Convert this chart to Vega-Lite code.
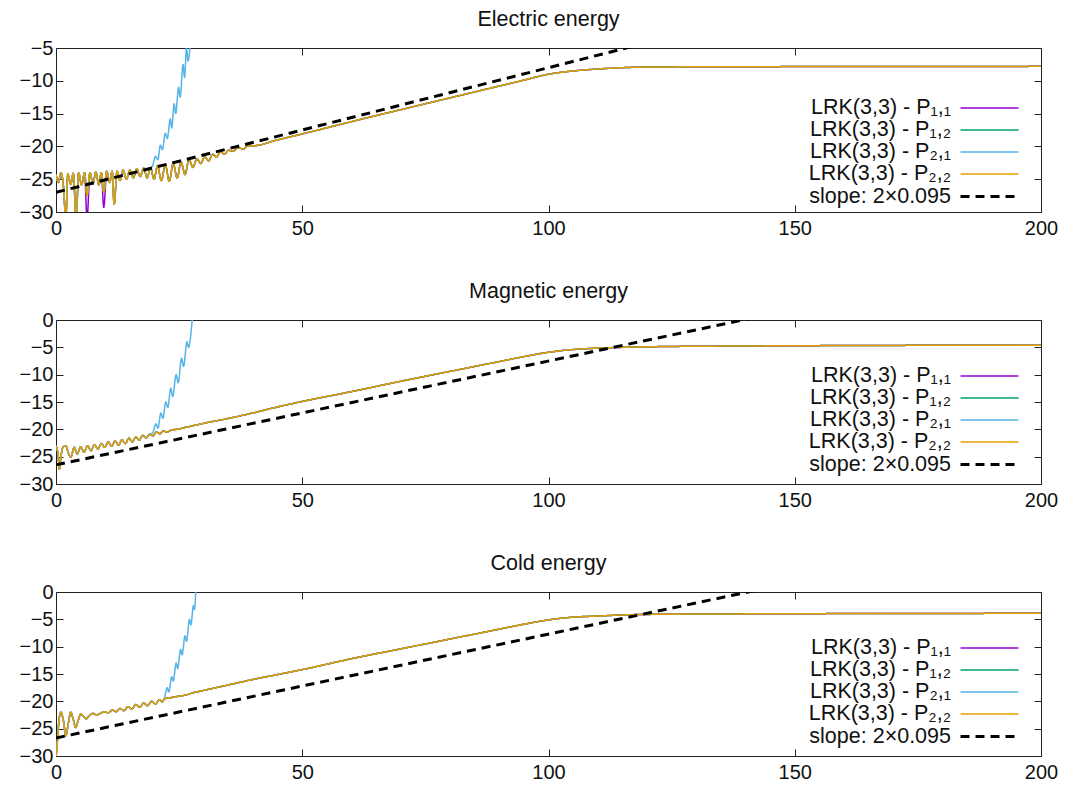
{
  "$schema": "https://vega.github.io/schema/vega-lite/v6.json",
  "background": "white",
  "padding": {"left": 5, "top": 8, "right": 5, "bottom": 0},
  "spacing": 32,
  "config": {
    "font": "Liberation Sans",
    "view": {"stroke": "#222222", "strokeWidth": 1},
    "axis": {"grid": false, "domain": false, "tickColor": "#222222", "tickSize": -7, "labelFontSize": 20, "labelColor": "#111111", "labelFont": "Liberation Sans", "title": null, "labelOverlap": false},
    "title": {"fontSize": 21.5, "fontWeight": "normal", "font": "Liberation Sans", "color": "#111111", "offset": 8, "anchor": "middle"},
    "legend": {"orient": "none", "symbolType": "M-2.9,0H2.9", "symbolSize": 400, "labelFontSize": 21.5, "labelFont": "Liberation Sans", "labelColor": "#111111", "labelAlign": "right", "labelBaseline": "middle", "labelOffset": -50, "rowPadding": 0, "labelLimit": 0, "padding": 0}
  },
  "datasets": {
    "E": [
      {"t":0,"p11":-24.3,"p12":-24.3,"p21":-24.3,"p22":-24.3},
      {"t":0.5,"p11":-25.5,"p12":-25.5,"p21":-25.5,"p22":-25.5},
      {"t":1.0,"p11":-24.0,"p12":-24.0,"p21":-24.0,"p22":-24.0},
      {"t":1.5,"p11":-26.0,"p12":-26.0,"p21":-26.0,"p22":-26.0},
      {"t":2.0,"p11":-31,"p12":-31,"p21":-31,"p22":-31},
      {"t":2.4,"p11":-24.2,"p12":-24.2,"p21":-24.2,"p22":-24.2},
      {"t":3.0,"p11":-25.8,"p12":-25.8,"p21":-25.8,"p22":-25.8},
      {"t":3.5,"p11":-24.1,"p12":-24.1,"p21":-24.1,"p22":-24.1},
      {"t":4.1,"p11":-31,"p12":-31,"p21":-31,"p22":-31},
      {"t":4.6,"p11":-24.0,"p12":-24.0,"p21":-24.0,"p22":-24.0},
      {"t":5.2,"p11":-25.9,"p12":-25.9,"p21":-25.9,"p22":-25.9},
      {"t":5.8,"p11":-24.0,"p12":-24.0,"p21":-24.0,"p22":-24.0},
      {"t":6.3,"p11":-31,"p12":-27.5,"p21":-27.5,"p22":-27.5},
      {"t":6.9,"p11":-24.0,"p12":-24.0,"p21":-24.0,"p22":-24.0},
      {"t":7.5,"p11":-25.7,"p12":-25.7,"p21":-25.7,"p22":-25.7},
      {"t":8.1,"p11":-23.9,"p12":-23.9,"p21":-23.9,"p22":-23.9},
      {"t":8.7,"p11":-25.9,"p12":-25.9,"p21":-25.9,"p22":-25.9},
      {"t":9.2,"p11":-24.0,"p12":-24.0,"p21":-24.0,"p22":-24.0},
      {"t":9.7,"p11":-29.3,"p12":-27.0,"p21":-27.0,"p22":-27.0},
      {"t":10.3,"p11":-23.8,"p12":-23.8,"p21":-23.8,"p22":-23.8},
      {"t":10.9,"p11":-25.5,"p12":-25.5,"p21":-25.5,"p22":-25.5},
      {"t":11.4,"p11":-23.8,"p12":-23.8,"p21":-23.8,"p22":-23.8},
      {"t":11.8,"p11":-28.8,"p12":-28.8,"p21":-28.8,"p22":-28.8},
      {"t":12.4,"p11":-23.8,"p12":-23.8,"p21":-23.8,"p22":-23.8},
      {"t":13.0,"p11":-25.2,"p12":-25.2,"p21":-25.2,"p22":-25.2},
      {"t":13.6,"p11":-23.6,"p12":-23.6,"p21":-23.6,"p22":-23.6},
      {"t":14.3,"p11":-25.0,"p12":-25.0,"p21":-25.0,"p22":-25.0},
      {"t":15.0,"p11":-23.6,"p12":-23.6,"p21":-23.6,"p22":-23.6},
      {"t":15.7,"p11":-24.8,"p12":-24.8,"p21":-24.8,"p22":-24.8},
      {"t":16.4,"p11":-23.4,"p12":-23.4,"p21":-23.4,"p22":-23.4},
      {"t":17.1,"p11":-24.6,"p12":-24.6,"p21":-24.6,"p22":-24.6},
      {"t":17.8,"p11":-23.3,"p12":-23.3,"p21":-23.3,"p22":-23.3},
      {"t":18.5,"p11":-24.8,"p12":-24.8,"p21":-24.8,"p22":-24.8},
      {"t":19.2,"p11":-23.3,"p12":-23.3,"p21":-23.3,"p22":-23.3},
      {"t":19.6,"p21":-23.0},
      {"t":19.9,"p11":-25.0,"p12":-25.0,"p22":-25.0},
      {"t":20.2,"p21":-21.5},
      {"t":20.6,"p11":-23.0,"p12":-23.0,"p22":-23.0},
      {"t":20.7,"p21":-22.0},
      {"t":21.2,"p21":-19.8},
      {"t":21.4,"p11":-25.2,"p12":-25.2,"p22":-25.2},
      {"t":21.6,"p21":-20.5},
      {"t":22.2,"p11":-22.8,"p12":-22.8,"p21":-18.0,"p22":-22.8},
      {"t":22.6,"p21":-18.8},
      {"t":23.0,"p11":-25.3,"p12":-25.3,"p22":-25.3},
      {"t":23.2,"p21":-15.8},
      {"t":23.5,"p21":-17.2},
      {"t":23.8,"p11":-22.6,"p12":-22.6,"p22":-22.6},
      {"t":24.0,"p21":-13.5},
      {"t":24.3,"p21":-15.0},
      {"t":24.6,"p11":-24.8,"p12":-24.8,"p22":-24.8},
      {"t":24.9,"p21":-11.0},
      {"t":25.2,"p21":-12.5},
      {"t":25.4,"p11":-22.4,"p12":-22.4,"p22":-22.4},
      {"t":25.8,"p21":-7.5},
      {"t":26.1,"p21":-9.5},
      {"t":26.2,"p11":-24.3,"p12":-24.3,"p22":-24.3},
      {"t":26.5,"p21":-5.0},
      {"t":26.8,"p21":-7.0},
      {"t":27.0,"p11":-22.0,"p12":-22.0,"p22":-22.0},
      {"t":27.3,"p21":-4.0},
      {"t":27.8,"p11":-23.2,"p12":-23.2,"p22":-23.2},
      {"t":28.6,"p11":-21.9,"p12":-21.9,"p22":-21.9},
      {"t":29.4,"p11":-22.6,"p12":-22.6,"p22":-22.6},
      {"t":30.2,"p11":-21.6,"p12":-21.6,"p22":-21.6},
      {"t":31.0,"p11":-22.2,"p12":-22.2,"p22":-22.2},
      {"t":31.8,"p11":-21.2,"p12":-21.2,"p22":-21.2},
      {"t":32.6,"p11":-21.6,"p12":-21.6,"p22":-21.6},
      {"t":33.4,"p11":-20.8,"p12":-20.8,"p22":-20.8},
      {"t":34.2,"p11":-21.2,"p12":-21.2,"p22":-21.2},
      {"t":35.0,"p11":-20.6,"p12":-20.6,"p22":-20.6},
      {"t":36.0,"p11":-20.7,"p12":-20.7,"p22":-20.7},
      {"t":37.0,"p11":-20.2,"p12":-20.2,"p22":-20.2},
      {"t":38.0,"p11":-20.4,"p12":-20.4,"p22":-20.4},
      {"t":39.0,"p11":-19.9,"p12":-19.9,"p22":-19.9},
      {"t":40.0,"p11":-19.9,"p12":-19.9,"p22":-19.9},
      {"t":45,"p11":-19.0,"p12":-19.0,"p22":-19.0},
      {"t":50,"p11":-18.1,"p12":-18.1,"p22":-18.1},
      {"t":58,"p11":-16.6,"p12":-16.6,"p22":-16.6},
      {"t":65,"p11":-15.3,"p12":-15.3,"p22":-15.3},
      {"t":70,"p11":-14.4,"p12":-14.4,"p22":-14.4},
      {"t":80,"p11":-12.6,"p12":-12.6,"p22":-12.6},
      {"t":90,"p11":-10.8,"p12":-10.8,"p22":-10.8},
      {"t":95,"p11":-9.9,"p12":-9.9,"p22":-9.9},
      {"t":100,"p11":-9.0,"p12":-9.0,"p22":-9.0},
      {"t":105,"p11":-8.5,"p12":-8.5,"p22":-8.5},
      {"t":110,"p11":-8.2,"p12":-8.2,"p22":-8.2},
      {"t":115,"p11":-8.0,"p12":-8.0,"p22":-8.0},
      {"t":120,"p11":-7.9,"p12":-7.9,"p22":-7.9},
      {"t":140,"p11":-7.85,"p12":-7.85,"p22":-7.85},
      {"t":200,"p11":-7.8,"p12":-7.8,"p22":-7.8},
      {"t":0,"slope":-27},
      {"t":200,"slope":11}
    ],
    "M": [
      {"t":0,"p11":-23.0,"p12":-23.0,"p21":-23.0,"p22":-23.0},
      {"t":0.4,"p11":-24.5,"p12":-24.5,"p21":-24.5,"p22":-24.5},
      {"t":0.7,"p11":-27.3,"p12":-27.3,"p21":-27.3,"p22":-27.3},
      {"t":1.0,"p11":-25.0,"p12":-25.0,"p21":-25.0,"p22":-25.0},
      {"t":1.4,"p11":-23.3,"p12":-23.3,"p21":-23.3,"p22":-23.3},
      {"t":2.0,"p11":-23.0,"p12":-23.0,"p21":-23.0,"p22":-23.0},
      {"t":2.5,"p11":-24.3,"p12":-24.3,"p21":-24.3,"p22":-24.3},
      {"t":3.0,"p11":-25.1,"p12":-25.1,"p21":-25.1,"p22":-25.1},
      {"t":3.7,"p11":-23.3,"p12":-23.3,"p21":-23.3,"p22":-23.3},
      {"t":4.3,"p11":-24.5,"p12":-24.5,"p21":-24.5,"p22":-24.5},
      {"t":5.0,"p11":-23.2,"p12":-23.2,"p21":-23.2,"p22":-23.2},
      {"t":5.7,"p11":-24.2,"p12":-24.2,"p21":-24.2,"p22":-24.2},
      {"t":6.4,"p11":-23.0,"p12":-23.0,"p21":-23.0,"p22":-23.0},
      {"t":7.1,"p11":-23.9,"p12":-23.9,"p21":-23.9,"p22":-23.9},
      {"t":7.8,"p11":-22.8,"p12":-22.8,"p21":-22.8,"p22":-22.8},
      {"t":8.5,"p11":-23.6,"p12":-23.6,"p21":-23.6,"p22":-23.6},
      {"t":9.2,"p11":-22.6,"p12":-22.6,"p21":-22.6,"p22":-22.6},
      {"t":9.9,"p11":-23.3,"p12":-23.3,"p21":-23.3,"p22":-23.3},
      {"t":10.6,"p11":-22.3,"p12":-22.3,"p21":-22.3,"p22":-22.3},
      {"t":11.3,"p11":-23.1,"p12":-23.1,"p21":-23.1,"p22":-23.1},
      {"t":12.0,"p11":-22.1,"p12":-22.1,"p21":-22.1,"p22":-22.1},
      {"t":12.7,"p11":-22.9,"p12":-22.9,"p21":-22.9,"p22":-22.9},
      {"t":13.4,"p11":-21.9,"p12":-21.9,"p21":-21.9,"p22":-21.9},
      {"t":14.1,"p11":-22.6,"p12":-22.6,"p21":-22.6,"p22":-22.6},
      {"t":14.8,"p11":-21.6,"p12":-21.6,"p21":-21.6,"p22":-21.6},
      {"t":15.5,"p11":-22.3,"p12":-22.3,"p21":-22.3,"p22":-22.3},
      {"t":16.2,"p11":-21.4,"p12":-21.4,"p21":-21.4,"p22":-21.4},
      {"t":16.9,"p11":-22.0,"p12":-22.0,"p21":-22.0,"p22":-22.0},
      {"t":17.6,"p11":-21.1,"p12":-21.1,"p21":-21.1,"p22":-21.1},
      {"t":18.3,"p11":-21.6,"p12":-21.6,"p21":-21.6,"p22":-21.6},
      {"t":19.0,"p11":-20.9,"p12":-20.9,"p21":-20.9,"p22":-20.9},
      {"t":19.6,"p21":-20.7},
      {"t":19.7,"p11":-21.2,"p12":-21.2,"p22":-21.2},
      {"t":20.3,"p21":-19.0},
      {"t":20.4,"p11":-20.5,"p12":-20.5,"p22":-20.5},
      {"t":20.7,"p21":-19.8},
      {"t":21.1,"p11":-20.8,"p12":-20.8,"p22":-20.8},
      {"t":21.3,"p21":-17.0},
      {"t":21.7,"p21":-18.0},
      {"t":21.8,"p11":-20.3,"p12":-20.3,"p22":-20.3},
      {"t":22.3,"p21":-15.0},
      {"t":22.5,"p11":-20.5,"p12":-20.5,"p22":-20.5},
      {"t":22.7,"p21":-16.0},
      {"t":23.3,"p21":-12.5},
      {"t":23.5,"p11":-20.1,"p12":-20.1,"p22":-20.1},
      {"t":23.7,"p21":-14.0},
      {"t":24.4,"p21":-10.0},
      {"t":24.5,"p11":-20.0,"p12":-20.0,"p22":-20.0},
      {"t":24.8,"p21":-11.5},
      {"t":25.5,"p21":-7.0},
      {"t":25.9,"p21":-8.5},
      {"t":26,"p11":-19.7,"p12":-19.7,"p22":-19.7},
      {"t":26.6,"p21":-4.0},
      {"t":26.9,"p21":-5.0},
      {"t":27.7,"p21":0.5},
      {"t":28,"p11":-19.3,"p12":-19.3,"p22":-19.3},
      {"t":30,"p11":-18.9,"p12":-18.9,"p22":-18.9},
      {"t":35,"p11":-18.0,"p12":-18.0,"p22":-18.0},
      {"t":40,"p11":-17.0,"p12":-17.0,"p22":-17.0},
      {"t":45,"p11":-15.9,"p12":-15.9,"p22":-15.9},
      {"t":50,"p11":-14.9,"p12":-14.9,"p22":-14.9},
      {"t":60,"p11":-13.1,"p12":-13.1,"p22":-13.1},
      {"t":70,"p11":-11.2,"p12":-11.2,"p22":-11.2},
      {"t":80,"p11":-9.4,"p12":-9.4,"p22":-9.4},
      {"t":90,"p11":-7.6,"p12":-7.6,"p22":-7.6},
      {"t":95,"p11":-6.7,"p12":-6.7,"p22":-6.7},
      {"t":100,"p11":-5.9,"p12":-5.9,"p22":-5.9},
      {"t":105,"p11":-5.4,"p12":-5.4,"p22":-5.4},
      {"t":110,"p11":-5.15,"p12":-5.15,"p22":-5.15},
      {"t":115,"p11":-5.0,"p12":-5.0,"p22":-5.0},
      {"t":120,"p11":-4.9,"p12":-4.9,"p22":-4.9},
      {"t":140,"p11":-4.75,"p12":-4.75,"p22":-4.75},
      {"t":200,"p11":-4.6,"p12":-4.6,"p22":-4.6},
      {"t":0,"slope":-26.5},
      {"t":200,"slope":11.5}
    ],
    "C": [
      {"t":0,"p11":-30.5,"p12":-30.5,"p21":-30.5,"p22":-30.5},
      {"t":0.3,"p11":-27.0,"p12":-27.0,"p21":-27.0,"p22":-27.0},
      {"t":0.6,"p11":-23.5,"p12":-23.5,"p21":-23.5,"p22":-23.5},
      {"t":1.0,"p11":-22.0,"p12":-22.0,"p21":-22.0,"p22":-22.0},
      {"t":1.5,"p11":-23.5,"p12":-23.5,"p21":-23.5,"p22":-23.5},
      {"t":2.0,"p11":-26.3,"p12":-26.3,"p21":-26.3,"p22":-26.3},
      {"t":2.5,"p11":-24.0,"p12":-24.0,"p21":-24.0,"p22":-24.0},
      {"t":3.0,"p11":-22.0,"p12":-22.0,"p21":-22.0,"p22":-22.0},
      {"t":3.5,"p11":-23.3,"p12":-23.3,"p21":-23.3,"p22":-23.3},
      {"t":4.0,"p11":-24.8,"p12":-24.8,"p21":-24.8,"p22":-24.8},
      {"t":4.5,"p11":-23.5,"p12":-23.5,"p21":-23.5,"p22":-23.5},
      {"t":5.0,"p11":-22.3,"p12":-22.3,"p21":-22.3,"p22":-22.3},
      {"t":5.6,"p11":-22.8,"p12":-22.8,"p21":-22.8,"p22":-22.8},
      {"t":6.1,"p11":-23.2,"p12":-23.2,"p21":-23.2,"p22":-23.2},
      {"t":6.8,"p11":-22.6,"p12":-22.6,"p21":-22.6,"p22":-22.6},
      {"t":7.5,"p11":-22.2,"p12":-22.2,"p21":-22.2,"p22":-22.2},
      {"t":8.2,"p11":-22.5,"p12":-22.5,"p21":-22.5,"p22":-22.5},
      {"t":9.0,"p11":-22.2,"p12":-22.2,"p21":-22.2,"p22":-22.2},
      {"t":9.8,"p11":-21.9,"p12":-21.9,"p21":-21.9,"p22":-21.9},
      {"t":10.6,"p11":-22.1,"p12":-22.1,"p21":-22.1,"p22":-22.1},
      {"t":11.4,"p11":-21.6,"p12":-21.6,"p21":-21.6,"p22":-21.6},
      {"t":12.2,"p11":-21.9,"p12":-21.9,"p21":-21.9,"p22":-21.9},
      {"t":13.0,"p11":-21.3,"p12":-21.3,"p21":-21.3,"p22":-21.3},
      {"t":13.8,"p11":-21.7,"p12":-21.7,"p21":-21.7,"p22":-21.7},
      {"t":14.6,"p11":-21.0,"p12":-21.0,"p21":-21.0,"p22":-21.0},
      {"t":15.4,"p11":-21.4,"p12":-21.4,"p21":-21.4,"p22":-21.4},
      {"t":16.2,"p11":-20.6,"p12":-20.6,"p21":-20.6,"p22":-20.6},
      {"t":17.0,"p11":-21.1,"p12":-21.1,"p21":-21.1,"p22":-21.1},
      {"t":17.8,"p11":-20.3,"p12":-20.3,"p21":-20.3,"p22":-20.3},
      {"t":18.6,"p11":-20.8,"p12":-20.8,"p21":-20.8,"p22":-20.8},
      {"t":19.4,"p11":-20.0,"p12":-20.0,"p21":-20.0,"p22":-20.0},
      {"t":20.2,"p11":-20.5,"p12":-20.5,"p21":-20.5,"p22":-20.5},
      {"t":21.0,"p11":-19.7,"p12":-19.7,"p21":-19.7,"p22":-19.7},
      {"t":21.6,"p11":-20.1,"p12":-20.1,"p21":-20.1,"p22":-20.1},
      {"t":22.0,"p11":-19.5,"p12":-19.5,"p21":-19.5,"p22":-19.5},
      {"t":22.6,"p21":-17.5},
      {"t":22.9,"p21":-18.3},
      {"t":23,"p11":-19.4,"p12":-19.4,"p22":-19.4},
      {"t":23.5,"p21":-15.5},
      {"t":23.8,"p21":-16.3},
      {"t":24,"p11":-19.2,"p12":-19.2,"p22":-19.2},
      {"t":24.4,"p21":-13.0},
      {"t":24.7,"p21":-14.0},
      {"t":25.3,"p21":-10.5},
      {"t":25.6,"p21":-11.5},
      {"t":26,"p11":-18.9,"p12":-18.9,"p22":-18.9},
      {"t":26.2,"p21":-8.0},
      {"t":26.5,"p21":-9.0},
      {"t":27.1,"p21":-5.0},
      {"t":27.4,"p21":-6.0},
      {"t":27.9,"p21":-2.5},
      {"t":28,"p11":-18.4,"p12":-18.4,"p22":-18.4},
      {"t":28.1,"p21":-3.2},
      {"t":28.4,"p21":0.5},
      {"t":30,"p11":-18.0,"p12":-18.0,"p22":-18.0},
      {"t":35,"p11":-17.0,"p12":-17.0,"p22":-17.0},
      {"t":40,"p11":-16.0,"p12":-16.0,"p22":-16.0},
      {"t":45,"p11":-15.1,"p12":-15.1,"p22":-15.1},
      {"t":50,"p11":-14.2,"p12":-14.2,"p22":-14.2},
      {"t":60,"p11":-12.2,"p12":-12.2,"p22":-12.2},
      {"t":70,"p11":-10.4,"p12":-10.4,"p22":-10.4},
      {"t":80,"p11":-8.6,"p12":-8.6,"p22":-8.6},
      {"t":90,"p11":-6.8,"p12":-6.8,"p22":-6.8},
      {"t":95,"p11":-5.9,"p12":-5.9,"p22":-5.9},
      {"t":100,"p11":-5.1,"p12":-5.1,"p22":-5.1},
      {"t":105,"p11":-4.6,"p12":-4.6,"p22":-4.6},
      {"t":110,"p11":-4.4,"p12":-4.4,"p22":-4.4},
      {"t":115,"p11":-4.2,"p12":-4.2,"p22":-4.2},
      {"t":120,"p11":-4.1,"p12":-4.1,"p22":-4.1},
      {"t":140,"p11":-4.0,"p12":-4.0,"p22":-4.0},
      {"t":200,"p11":-3.9,"p12":-3.9,"p22":-3.9},
      {"t":0,"slope":-26.7},
      {"t":200,"slope":11.3}
    ]
  },
  "resolve": {
    "scale": {"color": "independent", "strokeDash": "independent", "strokeWidth": "independent", "x": "independent", "y": "independent"},
    "legend": {"color": "independent", "strokeDash": "independent", "strokeWidth": "independent"}
  },
  "vconcat": [
    {
      "title": {"text": "Electric energy"},
      "width": 985,
      "height": 164,
      "data": {"name": "E"},
      "transform": [
        {"fold": ["p11", "p12", "p21", "p22", "slope"], "as": ["series", "v"]},
        {"filter": "isValid(datum.v)"}
      ],
      "layer": [
        {
          "mark": {"type": "line", "clip": true, "interpolate": "monotone"},
          "encoding": {
            "x": {"field": "t", "type": "quantitative", "scale": {"domain": [0, 200], "nice": false, "zero": false}, "axis": {"orient": "bottom", "values": [0, 50, 100, 150, 200], "labelFlush": false, "labelPadding": 13, "minExtent": 35, "maxExtent": 35}},
            "y": {"field": "v", "type": "quantitative", "scale": {"domain": [-30, -5], "nice": false, "zero": false}, "axis": {"orient": "left", "values": [-30, -25, -20, -15, -10, -5], "labelPadding": 10, "minExtent": 50, "maxExtent": 50}},
            "color": {"field": "series", "type": "nominal", "scale": {"domain": ["p11", "p12", "p21", "p22", "slope"], "range": ["#9400d3", "#009e73", "#56b4e9", "#e69f00", "#000000"]}, "legend": {"title": null, "legendX": 922, "legendY": 49, "labelExpr": "{'p11':'LRK(3,3) - P₁,₁','p12':'LRK(3,3) - P₁,₂','p21':'LRK(3,3) - P₂,₁','p22':'LRK(3,3) - P₂,₂','slope':'slope: 2×0.095'}[datum.value]"}},
            "strokeDash": {"field": "series", "type": "nominal", "scale": {"domain": ["p11", "p12", "p21", "p22", "slope"], "range": [[1, 0], [1, 0], [1, 0], [1, 0], [9, 6]]}, "legend": {"title": null, "legendX": 922, "legendY": 49, "labelExpr": "{'p11':'LRK(3,3) - P₁,₁','p12':'LRK(3,3) - P₁,₂','p21':'LRK(3,3) - P₂,₁','p22':'LRK(3,3) - P₂,₂','slope':'slope: 2×0.095'}[datum.value]"}},
            "strokeWidth": {"field": "series", "type": "nominal", "scale": {"type": "ordinal", "domain": ["p11", "p12", "p21", "p22", "slope"], "range": [1.5, 1.5, 1.5, 1.5, 3]}, "legend": {"title": null, "legendX": 922, "legendY": 49, "labelExpr": "{'p11':'LRK(3,3) - P₁,₁','p12':'LRK(3,3) - P₁,₂','p21':'LRK(3,3) - P₂,₁','p22':'LRK(3,3) - P₂,₂','slope':'slope: 2×0.095'}[datum.value]"}}
          }
        },
        {
          "mark": {"type": "point", "opacity": 0, "clip": true},
          "encoding": {
            "x": {"field": "t", "type": "quantitative", "scale": {"domain": [0, 200], "nice": false, "zero": false}, "axis": {"orient": "top", "values": [0, 50, 100, 150, 200], "labels": false, "minExtent": 0, "maxExtent": 0}},
            "y": {"field": "v", "type": "quantitative", "scale": {"domain": [-30, -5], "nice": false, "zero": false}, "axis": {"orient": "right", "values": [-30, -25, -20, -15, -10, -5], "labels": false, "minExtent": 0, "maxExtent": 0}}
          }
        }
      ],
      "resolve": {"axis": {"x": "independent", "y": "independent"}}
    },
    {
      "title": {"text": "Magnetic energy"},
      "width": 985,
      "height": 164,
      "data": {"name": "M"},
      "transform": [
        {"fold": ["p11", "p12", "p21", "p22", "slope"], "as": ["series", "v"]},
        {"filter": "isValid(datum.v)"}
      ],
      "layer": [
        {
          "mark": {"type": "line", "clip": true, "interpolate": "monotone"},
          "encoding": {
            "x": {"field": "t", "type": "quantitative", "scale": {"domain": [0, 200], "nice": false, "zero": false}, "axis": {"orient": "bottom", "values": [0, 50, 100, 150, 200], "labelFlush": false, "labelPadding": 13, "minExtent": 35, "maxExtent": 35}},
            "y": {"field": "v", "type": "quantitative", "scale": {"domain": [-30, 0], "nice": false, "zero": false}, "axis": {"orient": "left", "values": [-30, -25, -20, -15, -10, -5, 0], "labelPadding": 10, "minExtent": 50, "maxExtent": 50}},
            "color": {"field": "series", "type": "nominal", "scale": {"domain": ["p11", "p12", "p21", "p22", "slope"], "range": ["#9400d3", "#009e73", "#56b4e9", "#e69f00", "#000000"]}, "legend": {"title": null, "legendX": 922, "legendY": 45, "labelExpr": "{'p11':'LRK(3,3) - P₁,₁','p12':'LRK(3,3) - P₁,₂','p21':'LRK(3,3) - P₂,₁','p22':'LRK(3,3) - P₂,₂','slope':'slope: 2×0.095'}[datum.value]"}},
            "strokeDash": {"field": "series", "type": "nominal", "scale": {"domain": ["p11", "p12", "p21", "p22", "slope"], "range": [[1, 0], [1, 0], [1, 0], [1, 0], [9, 6]]}, "legend": {"title": null, "legendX": 922, "legendY": 45, "labelExpr": "{'p11':'LRK(3,3) - P₁,₁','p12':'LRK(3,3) - P₁,₂','p21':'LRK(3,3) - P₂,₁','p22':'LRK(3,3) - P₂,₂','slope':'slope: 2×0.095'}[datum.value]"}},
            "strokeWidth": {"field": "series", "type": "nominal", "scale": {"type": "ordinal", "domain": ["p11", "p12", "p21", "p22", "slope"], "range": [1.5, 1.5, 1.5, 1.5, 3]}, "legend": {"title": null, "legendX": 922, "legendY": 45, "labelExpr": "{'p11':'LRK(3,3) - P₁,₁','p12':'LRK(3,3) - P₁,₂','p21':'LRK(3,3) - P₂,₁','p22':'LRK(3,3) - P₂,₂','slope':'slope: 2×0.095'}[datum.value]"}}
          }
        },
        {
          "mark": {"type": "point", "opacity": 0, "clip": true},
          "encoding": {
            "x": {"field": "t", "type": "quantitative", "scale": {"domain": [0, 200], "nice": false, "zero": false}, "axis": {"orient": "top", "values": [0, 50, 100, 150, 200], "labels": false, "minExtent": 0, "maxExtent": 0}},
            "y": {"field": "v", "type": "quantitative", "scale": {"domain": [-30, 0], "nice": false, "zero": false}, "axis": {"orient": "right", "values": [-30, -25, -20, -15, -10, -5, 0], "labels": false, "minExtent": 0, "maxExtent": 0}}
          }
        }
      ],
      "resolve": {"axis": {"x": "independent", "y": "independent"}}
    },
    {
      "title": {"text": "Cold energy"},
      "width": 985,
      "height": 164,
      "data": {"name": "C"},
      "transform": [
        {"fold": ["p11", "p12", "p21", "p22", "slope"], "as": ["series", "v"]},
        {"filter": "isValid(datum.v)"}
      ],
      "layer": [
        {
          "mark": {"type": "line", "clip": true, "interpolate": "monotone"},
          "encoding": {
            "x": {"field": "t", "type": "quantitative", "scale": {"domain": [0, 200], "nice": false, "zero": false}, "axis": {"orient": "bottom", "values": [0, 50, 100, 150, 200], "labelFlush": false, "labelPadding": 13, "minExtent": 35, "maxExtent": 35}},
            "y": {"field": "v", "type": "quantitative", "scale": {"domain": [-30, 0], "nice": false, "zero": false}, "axis": {"orient": "left", "values": [-30, -25, -20, -15, -10, -5, 0], "labelPadding": 10, "minExtent": 50, "maxExtent": 50}},
            "color": {"field": "series", "type": "nominal", "scale": {"domain": ["p11", "p12", "p21", "p22", "slope"], "range": ["#9400d3", "#009e73", "#56b4e9", "#e69f00", "#000000"]}, "legend": {"title": null, "legendX": 922, "legendY": 45, "labelExpr": "{'p11':'LRK(3,3) - P₁,₁','p12':'LRK(3,3) - P₁,₂','p21':'LRK(3,3) - P₂,₁','p22':'LRK(3,3) - P₂,₂','slope':'slope: 2×0.095'}[datum.value]"}},
            "strokeDash": {"field": "series", "type": "nominal", "scale": {"domain": ["p11", "p12", "p21", "p22", "slope"], "range": [[1, 0], [1, 0], [1, 0], [1, 0], [9, 6]]}, "legend": {"title": null, "legendX": 922, "legendY": 45, "labelExpr": "{'p11':'LRK(3,3) - P₁,₁','p12':'LRK(3,3) - P₁,₂','p21':'LRK(3,3) - P₂,₁','p22':'LRK(3,3) - P₂,₂','slope':'slope: 2×0.095'}[datum.value]"}},
            "strokeWidth": {"field": "series", "type": "nominal", "scale": {"type": "ordinal", "domain": ["p11", "p12", "p21", "p22", "slope"], "range": [1.5, 1.5, 1.5, 1.5, 3]}, "legend": {"title": null, "legendX": 922, "legendY": 45, "labelExpr": "{'p11':'LRK(3,3) - P₁,₁','p12':'LRK(3,3) - P₁,₂','p21':'LRK(3,3) - P₂,₁','p22':'LRK(3,3) - P₂,₂','slope':'slope: 2×0.095'}[datum.value]"}}
          }
        },
        {
          "mark": {"type": "point", "opacity": 0, "clip": true},
          "encoding": {
            "x": {"field": "t", "type": "quantitative", "scale": {"domain": [0, 200], "nice": false, "zero": false}, "axis": {"orient": "top", "values": [0, 50, 100, 150, 200], "labels": false, "minExtent": 0, "maxExtent": 0}},
            "y": {"field": "v", "type": "quantitative", "scale": {"domain": [-30, 0], "nice": false, "zero": false}, "axis": {"orient": "right", "values": [-30, -25, -20, -15, -10, -5, 0], "labels": false, "minExtent": 0, "maxExtent": 0}}
          }
        }
      ],
      "resolve": {"axis": {"x": "independent", "y": "independent"}}
    }
  ]
}
